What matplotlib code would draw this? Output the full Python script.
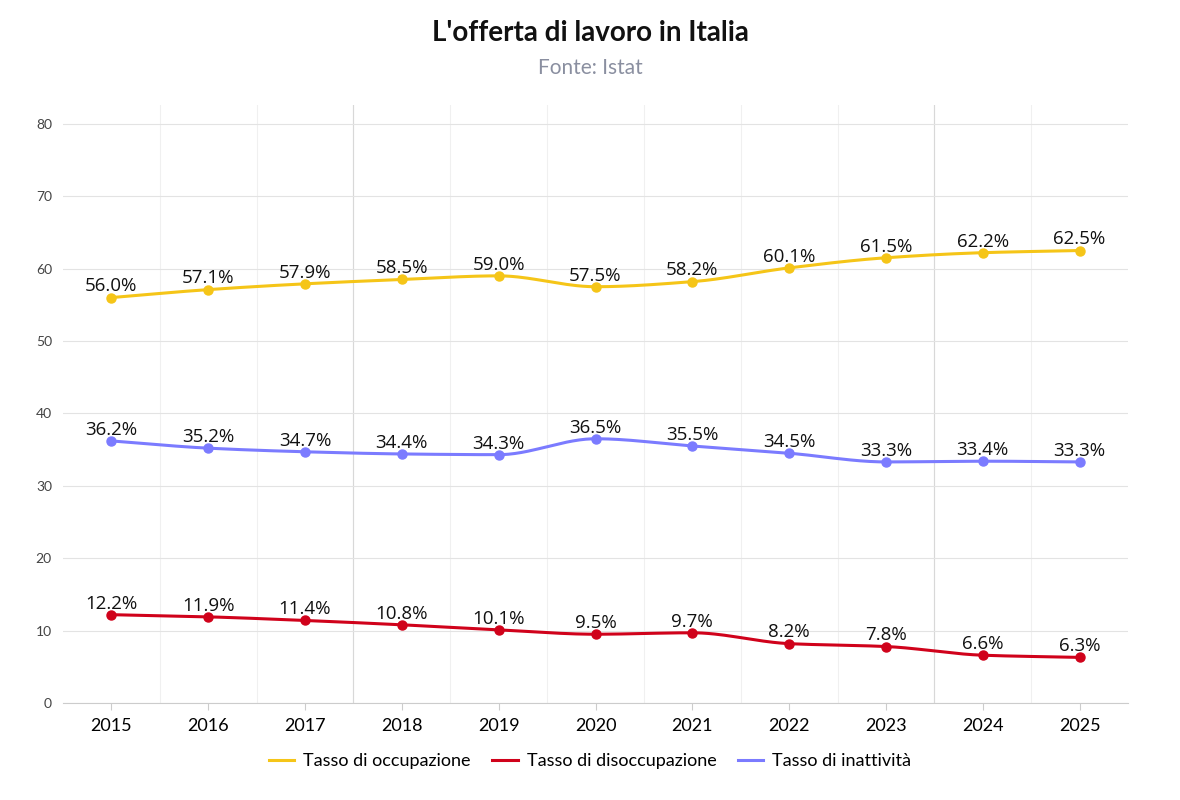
import matplotlib
matplotlib.use("Agg")
import matplotlib.pyplot as plt
import numpy as np

years = [2015, 2016, 2017, 2018, 2019, 2020, 2021, 2022, 2023, 2024, 2025]
occupazione = [56.0, 57.1, 57.9, 58.5, 59.0, 57.5, 58.2, 60.1, 61.5, 62.2, 62.5]
disoccupazione = [12.2, 11.9, 11.4, 10.8, 10.1, 9.5, 9.7, 8.2, 7.8, 6.6, 6.3]
inattivita = [36.2, 35.2, 34.7, 34.4, 34.3, 36.5, 35.5, 34.5, 33.3, 33.4, 33.3]
series = [("Tasso di occupazione", occupazione, "#f5c518"),
          ("Tasso di disoccupazione", disoccupazione, "#d0021b"),
          ("Tasso di inattività", inattivita, "#7b7bff")]

def smooth(x, y, n=30):
    # monotone cubic (Fritsch-Carlson) for drawing only
    x = np.asarray(x, float); y = np.asarray(y, float)
    h = np.diff(x); d = np.diff(y) / h
    m = np.zeros_like(y)
    m[0], m[-1] = d[0], d[-1]
    for i in range(1, len(y) - 1):
        m[i] = 0 if d[i-1] * d[i] <= 0 else 2 / (1/d[i-1] + 1/d[i])
    xs, ys = [], []
    for i in range(len(x) - 1):
        t = np.linspace(0, 1, n, endpoint=False)
        h00 = 2*t**3 - 3*t**2 + 1; h10 = t**3 - 2*t**2 + t
        h01 = -2*t**3 + 3*t**2; h11 = t**3 - t**2
        xs.append(x[i] + t*h[i])
        ys.append(h00*y[i] + h10*h[i]*m[i] + h01*y[i+1] + h11*h[i]*m[i+1])
    xs.append([x[-1]]); ys.append([y[-1]])
    return np.concatenate(xs), np.concatenate(ys)

fig = plt.figure(figsize=(11.8, 8), dpi=100)
ax = fig.add_axes([63/1180, 1-703/800, (1128-63)/1180, (703-105)/800])
ax.set_xlim(2014.5, 2025.5)
ax.set_ylim(0, 82.6)
for b in np.arange(2015.5, 2025, 1):
    ax.axvline(b, color="#f0f0f0", lw=0.8, zorder=0)
for b in [2017.5, 2023.5]:
    ax.axvline(b, color="#d8d8d8", lw=0.8, zorder=0)
ax.set_yticks(range(0, 81, 10))
ax.yaxis.grid(True, color="#e3e3e3", lw=0.8)
ax.set_axisbelow(True)
for s in ["top", "right", "left"]:
    ax.spines[s].set_visible(False)
ax.spines["bottom"].set_color("#cccccc")
ax.tick_params(axis="y", length=0, labelsize=10, labelcolor="#444444", pad=8)
ax.tick_params(axis="x", length=5, color="#cccccc", labelsize=13, pad=6)
ax.set_xticks(years)
for lab in ax.get_xticklabels():
    lab.set_family("Lato")
for lab in ax.get_yticklabels():
    lab.set_family("Lato")

for name, vals, c in series:
    xs, ys = smooth(years, vals)
    ax.plot(xs, ys, color=c, lw=2.2, label=name)
    ax.plot(years, vals, "o", color=c, ms=6.5)
    for x, v in zip(years, vals):
        ax.text(x, v + 0.3, f"{v:.1f}%", ha="center", va="bottom",
                fontsize=13.5, family="Open Sans", color="#111111")

fig.text(0.5, 1-33/800, "L'offerta di lavoro in Italia", ha="center", va="center",
         fontsize=20, fontweight="bold", family="Lato", color="#111111")
fig.text(0.5, 1-68/800, "Fonte: Istat", ha="center", va="center",
         fontsize=15, family="Lato", color="#8a8fa0")
fig.legend(*ax.get_legend_handles_labels(), loc="center", bbox_to_anchor=(0.5, 1-761/800),
           ncol=3, frameon=False, prop={"family": "Lato", "size": 13},
           handlelength=1.4, columnspacing=1.2, handletextpad=0.5)
fig.savefig("out.png", dpi=100)
